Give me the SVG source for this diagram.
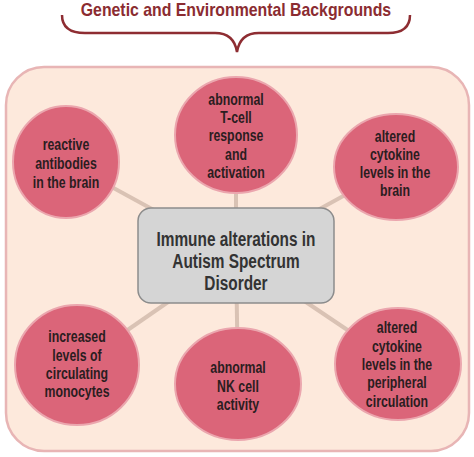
<svg xmlns="http://www.w3.org/2000/svg" width="474" height="457" viewBox="0 0 474 457">
<style>
.node ellipse{fill:#db6579;stroke:#eba6ae;stroke-width:2}
.ct{font-family:"Liberation Sans",Arial,sans-serif;font-weight:bold;font-size:16px;fill:#2b1d1f;text-anchor:middle}
.conn line{stroke:#d9c2b4;stroke-width:4}
</style>
<rect width="474" height="457" fill="#ffffff"/>
<g id="title">
<text x="236" y="16" transform="matrix(0.88,0,0,1,28.3,0)" style="font-family:'Liberation Sans',Arial,sans-serif;font-weight:bold;font-size:18px;fill:#8b2c31;text-anchor:middle">Genetic and Environmental Backgrounds</text>
<path d="M62,15 Q62,33 85,33 L215,33 Q234,33 237,52 Q240,33 259,33 L388,33 Q410,33 410,15" fill="none" stroke="#8e2d32" stroke-width="2.5"/>
</g>
<g id="background">
<rect x="6" y="67" width="463" height="384" rx="38" fill="#fde9dc" stroke="#e8b5b5" stroke-width="2.5"/>
</g>
<g class="conn" id="connectors">
<line x1="236" y1="255" x2="66" y2="162"/>
<line x1="236" y1="255" x2="236" y2="135"/>
<line x1="236" y1="255" x2="396" y2="167"/>
<line x1="236" y1="255" x2="77" y2="365"/>
<line x1="236" y1="255" x2="238" y2="384"/>
<line x1="236" y1="255" x2="398" y2="364"/>
</g>
<g id="center">
<rect x="138" y="208" width="196" height="95" rx="13" fill="#d5d5d5" stroke="#8c8c8c" stroke-width="1.5"/>
<g transform="matrix(0.77,0,0,1,54.28,0)">
<text class="ct" style="font-size:20px;fill:#333" x="236" y="246">Immune alterations in</text>
<text class="ct" style="font-size:20px;fill:#333" x="236" y="268">Autism Spectrum</text>
<text class="ct" style="font-size:20px;fill:#333" x="236" y="290">Disorder</text>
</g>
</g>
<g class="node" id="n1">
<ellipse cx="66" cy="162" rx="53" ry="56"/>
<g transform="matrix(0.77,0,0,1,15.18,0)">
<text class="ct" x="66" y="150">reactive</text>
<text class="ct" x="66" y="169">antibodies</text>
<text class="ct" x="66" y="188">in the brain</text>
</g>
</g>
<g class="node" id="n2">
<ellipse cx="236" cy="135" rx="61" ry="58"/>
<g transform="matrix(0.77,0,0,1,54.28,0)">
<text class="ct" x="236" y="105">abnormal</text>
<text class="ct" x="236" y="123">T-cell</text>
<text class="ct" x="236" y="141">response</text>
<text class="ct" x="236" y="160">and</text>
<text class="ct" x="236" y="178">activation</text>
</g>
</g>
<g class="node" id="n3">
<ellipse cx="396" cy="167" rx="62" ry="53"/>
<g transform="matrix(0.77,0,0,1,90.85,0)">
<text class="ct" x="395" y="142">altered</text>
<text class="ct" x="395" y="160">cytokine</text>
<text class="ct" x="395" y="178">levels in the</text>
<text class="ct" x="395" y="196">brain</text>
</g>
</g>
<g class="node" id="n4">
<ellipse cx="77" cy="365" rx="62" ry="60"/>
<g transform="matrix(0.77,0,0,1,17.71,0)">
<text class="ct" x="77" y="342">increased</text>
<text class="ct" x="77" y="361">levels of</text>
<text class="ct" x="77" y="379">circulating</text>
<text class="ct" x="77" y="397">monocytes</text>
</g>
</g>
<g class="node" id="n5">
<ellipse cx="238" cy="384" rx="63" ry="56"/>
<g transform="matrix(0.77,0,0,1,54.74,0)">
<text class="ct" x="238" y="373">abnormal</text>
<text class="ct" x="238" y="392">NK cell</text>
<text class="ct" x="238" y="410">activity</text>
</g>
</g>
<g class="node" id="n6">
<ellipse cx="398" cy="364" rx="63" ry="56"/>
<g transform="matrix(0.77,0,0,1,91.31,0)">
<text class="ct" x="397" y="333">altered</text>
<text class="ct" x="397" y="352">cytokine</text>
<text class="ct" x="397" y="370">levels in the</text>
<text class="ct" x="397" y="388">peripheral</text>
<text class="ct" x="397" y="407">circulation</text>
</g>
</g>
</svg>
